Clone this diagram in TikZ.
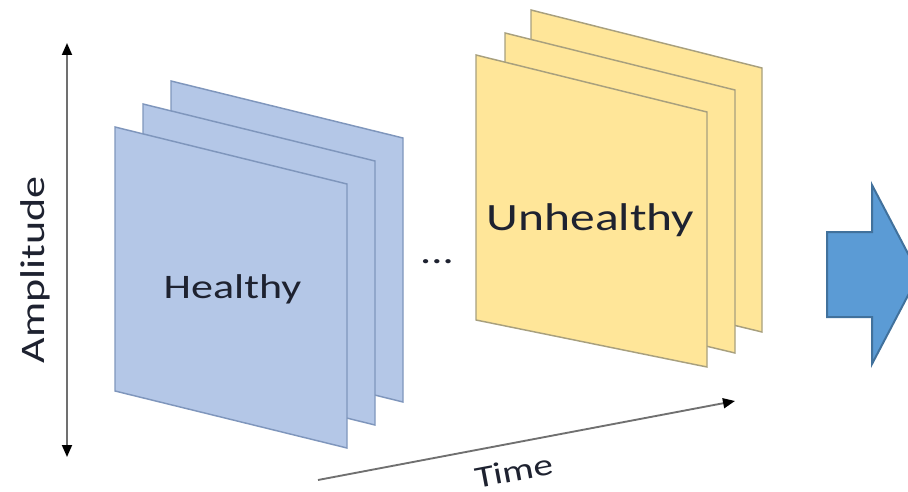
\documentclass[tikz,border=0pt]{standalone}
\usepackage{fontspec}
\setmainfont[FakeStretch=1.28]{Carlito}
\usetikzlibrary{arrows.meta}
\definecolor{bluefill}{HTML}{B4C7E7}
\definecolor{bluedraw}{HTML}{7F96BC}
\definecolor{yelfill}{HTML}{FFE699}
\definecolor{yeldraw}{HTML}{A8A07E}
\definecolor{arrowfill}{HTML}{5B9BD5}
\definecolor{arrowdraw}{HTML}{41719C}
\definecolor{txt}{HTML}{1E2230}
\definecolor{axisgray}{HTML}{707070}
\begin{document}
\begin{tikzpicture}[x=0.75pt,y=-0.75pt,
  bsheet/.style={fill=bluefill,draw=bluedraw,line width=1.1pt},
  ysheet/.style={fill=yelfill,draw=yeldraw,line width=1.1pt},
  axis/.style={draw=axisgray,line width=1.4pt},
  lbl/.style={text=txt,inner sep=0pt}
]
\useasboundingbox (0,0) rectangle (908,492);

% Healthy stack
\draw[bsheet] (171,81) -- (403,138) -- (403,402) -- (171,345) -- cycle;
\draw[bsheet] (143,104) -- (375,161) -- (375,425) -- (143,368) -- cycle;
\draw[bsheet] (115,127) -- (347,184) -- (347,448) -- (115,391) -- cycle;
\node[lbl,anchor=base,font=\fontsize{25.8}{30}\selectfont] (healthy) at (232.5,298) {Healthy};

% Unhealthy stack
\draw[ysheet] (531,10) -- (762,68) -- (762,332) -- (531,276) -- cycle;
\draw[ysheet] (505,33) -- (735,90) -- (735,353) -- (505,298) -- cycle;
\draw[ysheet] (476,55) -- (707,112) -- (707,367) -- (476,320) -- cycle;
\node[lbl,anchor=base,font=\fontsize{29}{34}\selectfont] (unhealthy) at (590.5,230) {Unhealthy};

% dots
\node[lbl,anchor=base,font=\fontsize{26}{30}\selectfont] (dots) at (437,263) {...};

% Amplitude axis
\coordinate (ampbot) at (67,457);
\coordinate (amptop) at (67,43);
\draw[axis,{Triangle[length=9pt,width=7.5pt,color=black]}-{Triangle[length=9pt,width=7.5pt,color=black]}] (ampbot) -- (amptop);
\node[lbl,rotate=90,anchor=base,font=\fontsize{25.8}{30}\selectfont] (amp) at (44,270) {Amplitude};

% Time axis
\coordinate (tstart) at (318,480);
\coordinate (tend) at (735,401);
\draw[axis,-{Triangle[length=9pt,width=7.5pt,color=black]}] (tstart) -- (tend);
\node[lbl,rotate=10.6,anchor=base,font=\fontsize{23}{27}\selectfont] (time) at (516,481) {Time};

% Big block arrow
\begin{scope}
\clip (0,0) rectangle (908,492);
\draw[fill=arrowfill,draw=arrowdraw,line width=1.5pt,line join=miter]
  (827,232) -- (872,232) -- (872,185) -- (919,274.5) -- (872,364) -- (872,317) -- (827,317) -- cycle;
\end{scope}
\end{tikzpicture}
\end{document}
